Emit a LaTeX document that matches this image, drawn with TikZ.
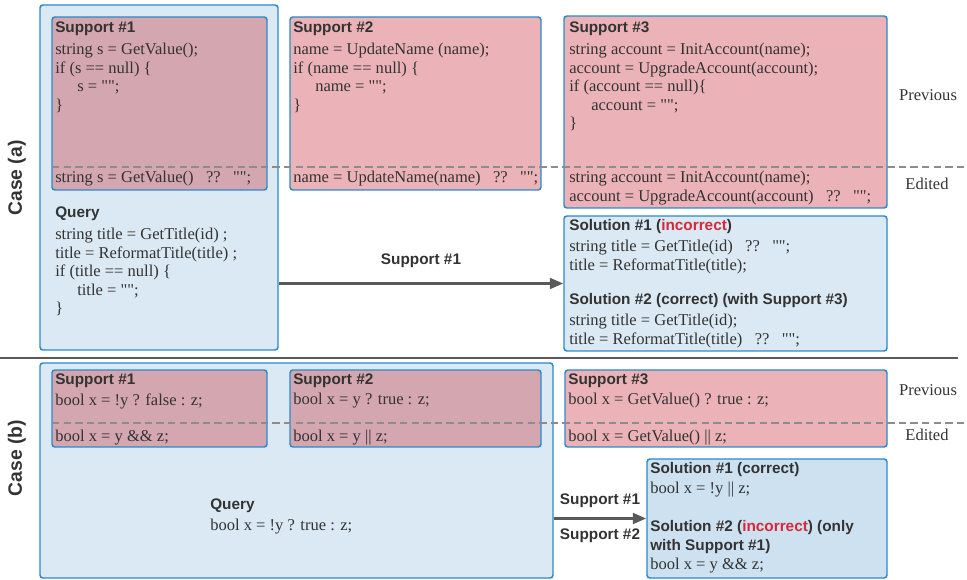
\documentclass[tikz,border=0pt]{standalone}
\usepackage{fontspec}
\setmainfont{Liberation Serif}[Ligatures=TeXOff]
\setsansfont{Liberation Sans}
\usetikzlibrary{arrows.meta,positioning,fit}
\definecolor{qblue}{RGB}{218,233,243}
\definecolor{solblue}{RGB}{205,225,240}
\definecolor{spink}{RGB}{235,179,184}
\definecolor{spinkdark}{RGB}{212,166,175}
\definecolor{edgeblue}{RGB}{44,138,203}
\definecolor{txtgray}{RGB}{51,51,51}
\definecolor{incred}{RGB}{214,40,57}
\definecolor{arrgray}{RGB}{90,90,90}
\newcommand{\qgap}{\hspace{0.75em}}

\begin{document}
\begin{tikzpicture}[
  x=0.75pt,y=-0.75pt,
  box/.style={draw=edgeblue,line width=1.1pt,rounded corners=2.2pt,
              inner sep=0pt,fill=#1},
  head/.style={font=\fontsize{11.5}{14.3}\selectfont\sffamily\bfseries,
               text=txtgray,inner sep=0pt,anchor=west,align=left},
  code/.style={font=\fontsize{12.4}{13.9}\selectfont,text=txtgray,
               inner sep=0pt,anchor=north west,align=left},
  case/.style={font=\fontsize{14.5}{16}\selectfont\sffamily\bfseries,
               text=txtgray,rotate=90},
  sep/.style={draw=gray!90,line width=0.8pt,dash pattern=on 5.5pt off 3.2pt},
  midline/.style={draw=arrgray,line width=1.6pt},
  arr/.style={-{Triangle[length=10pt,width=8pt]},line width=1.9pt,draw=arrgray}
]
  \useasboundingbox (0,0) rectangle (967,580);

  % Case (a): boxes
  \node[box=qblue,fit={(40,5) (278,350)}] (qryA) {};
  \node[box=spinkdark,fit={(52,17) (267,190)}] (supA1) {};
  \node[box=spink,fit={(290,17) (541,190)}] (supA2) {};
  \node[box=spink,fit={(564,16) (887,208)}] (supA3) {};
  \node[box=qblue,fit={(564,216) (887,351)}] (solA) {};

  % Previous / Edited line
  \coordinate (dA0) at (52,167);
  \coordinate (dA1) at (967,167);
  \draw[sep] (dA0) -- (dA1);

  % Support #1
  \node[head] (hA1) at (55,29) {Support \#1};
  \node[code] (cA1) at (55,43)
    {string s = GetValue();\\if (s == null) \{\\\hspace*{16.5pt}s = "";\\\}};
  \node[code,anchor=west] (eA1) at (55,179)
    {string s = GetValue()\qgap??\qgap"";};

  % Support #2
  \node[head] (hA2) at (293,29) {Support \#2};
  \node[code] (cA2) at (293,43)
    {name = UpdateName (name);\\if (name == null) \{\\\hspace*{16.5pt}name = "";\\\}};
  \node[code,anchor=west] (eA2) at (293,179)
    {name = UpdateName(name)\qgap??\qgap"";};

  % Support #3
  \node[head] (hA3) at (569,29) {Support \#3};
  \node[code] (cA3) at (569,43)
    {string account = InitAccount(name);\\account = UpgradeAccount(account);\\
     if (account == null)\{\\\hspace*{16.5pt}account = "";\\\}};
  \node[code] (eA3) at (569,171)
    {string account = InitAccount(name);\\
     account = UpgradeAccount(account)\qgap??\qgap"";};

  % Query
  \node[head] (hQA) at (55,214) {Query};
  \node[code] (cQA) at (55,228)
    {string title = GetTitle(id) ;\\title = ReformatTitle(title) ;\\
     if (title == null) \{\\\hspace*{16.5pt}title = "";\\\}};

  % Solutions
  \node[head] (hSA1) at (569,227) {Solution \#1 (\textcolor{incred}{incorrect})};
  \node[code] (cSA1) at (569,240)
    {string title = GetTitle(id)\qgap??\qgap"";\\title = ReformatTitle(title);};
  \node[head] (hSA2) at (569,301) {Solution \#2 (correct) (with Support \#3)};
  \node[code] (cSA2) at (569,314)
    {string title = GetTitle(id);\\title = ReformatTitle(title)\qgap??\qgap"";};

  \node[code,anchor=center] (prevA) at (928,95) {Previous};
  \node[code,anchor=center] (editA) at (927,184) {Edited};

  \draw[arr] (qryA.east |- solA.west) -- (solA.west)
    node[midway,head,above=11pt] (lA) {Support \#1};

  \node[case] (caseA) at (17,178) {Case (a)};

  % Separator
  \coordinate (mid0) at (0,358);
  \coordinate (mid1) at (958,358);
  \draw[midline] (mid0) -- (mid1);

  % Case (b): boxes
  \node[box=qblue,fit={(40,363) (553,578)}] (qryB) {};
  \node[box=spinkdark,fit={(52,370) (267,447)}] (supB1) {};
  \node[box=spinkdark,fit={(290,370) (541,447)}] (supB2) {};
  \node[box=spink,fit={(565,370) (887,447)}] (supB3) {};
  \node[box=solblue,fit={(647,459) (887,578)}] (solB) {};

  \coordinate (dB0) at (52,423);
  \coordinate (dB1) at (967,423);
  \draw[sep] (dB0) -- (dB1);

  % Supports
  \node[head] (hB1) at (55,381) {Support \#1};
  \node[code,anchor=west] (cB1) at (55,401) {bool x = !y ? false : z;};
  \node[code,anchor=west] (eB1) at (55,438) {bool x = y \&\& z;};

  \node[head] (hB2) at (293,381) {Support \#2};
  \node[code,anchor=west] (cB2) at (293,401) {bool x = y ? true : z;};
  \node[code,anchor=west] (eB2) at (293,438) {bool x = y || z;};

  \node[head] (hB3) at (568,381) {Support \#3};
  \node[code,anchor=west] (cB3) at (568,401) {bool x = GetValue() ? true : z;};
  \node[code,anchor=west] (eB3) at (568,438) {bool x = GetValue() || z;};

  % Query
  \node[head] (hQB) at (210,506) {Query};
  \node[code,anchor=west] (cQB) at (210,527) {bool x = !y ? true : z;};

  % Solutions
  \node[head] (hSB1) at (650,470) {Solution \#1 (correct)};
  \node[code,anchor=west] (cSB1) at (650,490) {bool x = !y || z;};
  \node[head,anchor=north west] (hSB2) at (650,520)
    {Solution \#2 (\textcolor{incred}{incorrect}) (only\\with Support \#1)};
  \node[code,anchor=west] (cSB2) at (650,566) {bool x = y \&\& z;};

  \node[code,anchor=center] (prevB) at (928,390) {Previous};
  \node[code,anchor=center] (editB) at (927,435) {Edited};

  \draw[arr] (qryB.east |- solB.west) -- (solB.west)
    node[midway,head,above=7.5pt] (lB1) {Support \#1}
    node[midway,head,below=6.5pt] (lB2) {Support \#2};

  \node[case] (caseB) at (17,458) {Case (b)};

\end{tikzpicture}
\end{document}
